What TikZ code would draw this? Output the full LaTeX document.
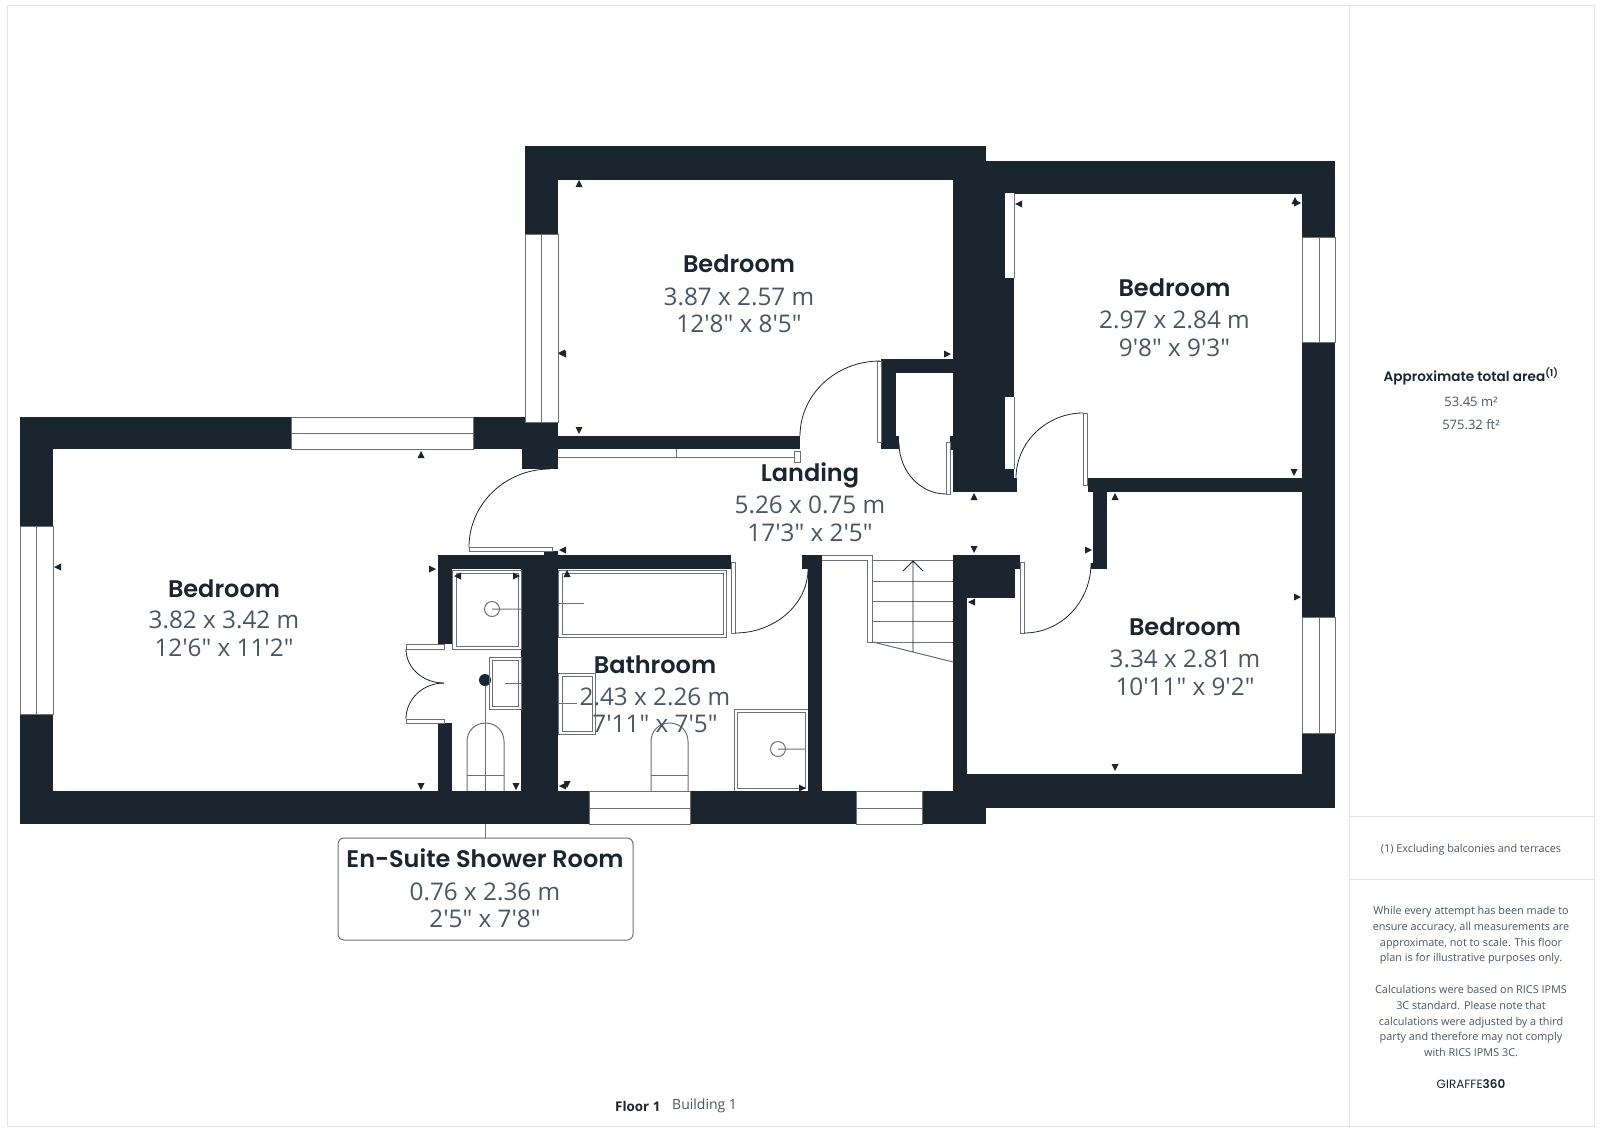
\documentclass[tikz,border=0pt]{standalone}
\usepackage{fontspec}
\setmainfont{Open Sans}
\newfontfamily\sizefont{Open Sans}
\newfontfamily\titlefont{Poppins}[BoldFont={Poppins SemiBold}]
\definecolor{wallcol}{HTML}{1B2530}
\definecolor{linecol}{HTML}{6C7178}
\definecolor{framecol}{HTML}{E2E4E7}
\definecolor{sizecol}{HTML}{4B5563}
\begin{document}
\begin{tikzpicture}[
                x=1pt, y=-1pt,
                wall/.style={fill=wallcol, draw=none},
                glass/.style={draw=linecol, fill=white, line width=0.9pt},
                leaf/.style={draw=linecol, fill=white, line width=0.9pt},
                swing/.style={draw=wallcol, line width=0.8pt},
                fixture/.style={draw=linecol, line width=1pt},
                pointer/.style={fill=wallcol, draw=none},
                frameline/.style={draw=framecol, line width=1pt},
                roomname/.style={font=\titlefont\bfseries\fontsize{24}{24}\selectfont, text=wallcol, inner sep=0pt},
                roomsize/.style={font=\sizefont\fontsize{24.3}{24.3}\selectfont, text=sizecol, inner sep=0pt},
                sidetext/.style={font=\fontsize{10.85}{15.8}\selectfont, text=sizecol, align=center, inner sep=0pt}
            ]

            % Page size and frame
            \useasboundingbox (0,0) rectangle (1600,1128);
            \fill[white] (0,0) rectangle (1600,1128);
            \draw[frameline] (7,5) rectangle (1594,1126);
            \draw[frameline] (1349,5) -- (1349,1126);
            \draw[frameline] (1349,816) -- (1594,816);
            \draw[frameline] (1349,879) -- (1594,879);

            % Shower room label with its leader
            \node[circle, fill=wallcol, minimum size=12pt, inner sep=0pt] (showerdot) at (485,680) {};
            \node[draw=linecol, line width=1pt, rounded corners=6pt, fill=white, minimum width=295pt, minimum height=102pt] (showerbox) at (485.5,889) {};
            \draw[fixture] (showerdot) -- (showerdot |- showerbox.north);

            % Walls
            \foreach \xa/\ya/\xb/\yb in {
                525/146/986/180, 525/180/558/234, 953/146/986/492, 986/161/1335/194,
                986/194/1014/492, 1302/161/1335/237, 1302/342/1335/617, 1302/733/1335/808,
                1014/478/1017/492, 950/436/953/450, 881/359/953/373, 881/373/896/449,
                882/436/899/449, 558/436/800/449, 522/422/558/469, 473/417/525/449,
                20/417/291/449, 20/449/53/526, 20/714/53/791, 20/791/589/824,
                438/555/731/569, 544/551/558/555, 438/569/452/644, 438/723/452/791,
                521/569/558/791, 802/555/822/569, 808/569/822/791, 690/791/856/824,
                922/791/986/824, 953/555/1020/569, 953/569/967/791, 967/569/1015/598,
                967/774/1335/808, 1088/478/1303/492, 1093/492/1107/569, 1091/563/1093/569}
                \fill[wall] (\xa,\ya) rectangle (\xb,\yb);

            % Windows
            \draw[glass] (291,417) rectangle (473,449) (291,433) -- (473,433);
            \draw[glass] (20,526) rectangle (53,714) (36,526) -- (36,714);
            \draw[glass] (525,234) rectangle (558,422) (541,234) -- (541,422);
            \draw[glass] (1302,237) rectangle (1335,342) (1319,237) -- (1319,342);
            \draw[glass] (1302,617) rectangle (1335,733) (1319,617) -- (1319,733);
            \draw[glass] (589,791) rectangle (690,824) (589,808) -- (690,808);
            \draw[glass] (856,791) rectangle (922,824) (856,808) -- (922,808);

            % Panels in the walls
            \fill[white] (1005,193) rectangle (1014,278);
            \fill[white] (1005,397) rectangle (1014,469);
            \draw[leaf] (1014,193) -- (1014,278) (1014,397) -- (1014,469);
            \draw[leaf] (558,457) -- (794,457) (676,449) -- (676,457);
            \draw[leaf] (794,451) rectangle (800,462);

            % Door leaves
            \foreach \xa/\ya/\xb/\yb in {
                877/361/881/442, 946/442/950/494, 1083/413/1087/485, 1020/562/1024/633,
                731/562/735/633, 469/547/552/551, 406/644/444/649, 406/719/444/723}
                \draw[leaf] (\xa,\ya) rectangle (\xb,\yb);

            % Door swings
            \draw[swing] (800,436) .. controls (800,394.6) and (835.8,361) .. (880,361);
            \draw[swing] (550,469) .. controls (505.3,469) and (469,504) .. (469,547);
            \draw[swing] (735,633) .. controls (775,633) and (808,604) .. (808,569);
            \draw[swing] (899,443) .. controls (899,471) and (920,494) .. (946,494);
            \draw[swing] (1016,478) .. controls (1016,442) and (1047,413) .. (1083,413);
            \draw[swing] (1091,563) .. controls (1091,602) and (1061,633) .. (1024,633);
            \draw[swing] (406,649) .. controls (406,668) and (423,683) .. (444,683);
            \draw[swing] (406,719) .. controls (406,699) and (423,683) .. (444,683);

            % Shower room fittings
            \draw[fixture] (452,570) rectangle (521,649);
            \draw[fixture] (456,573) rectangle (518,646);
            \draw[fixture] (492,609) circle (7.5) (492,609) -- (521,609);
            \draw[fixture] (489,657) rectangle (521,709);
            \draw[fixture] (492,660) rectangle (518,706);
            \draw[fixture] (505,683) -- (521,683);
            \draw[fixture] (467,791) -- (467,741.5) .. controls (467,731) and (475,723) .. (485.5,723)
                .. controls (496,723) and (504,731) .. (504,741.5) -- (504,791);
            \draw[fixture] (467,775) -- (504,775);

            % Bathroom fittings
            \draw[fixture] (558,570) rectangle (726,637);
            \draw[fixture] (562,573) rectangle (723,634);
            \draw[fixture] (558,603) -- (584,603);
            \draw[fixture] (558,673) rectangle (595,734);
            \draw[fixture] (562,676) rectangle (592,731);
            \draw[fixture] (558,703) -- (577,703);
            \draw[fixture] (651,791) -- (651,741.5) .. controls (651,731) and (659,723) .. (669.5,723)
                .. controls (680,723) and (688,731) .. (688,741.5) -- (688,791);
            \draw[fixture] (651,775) -- (688,775);
            \draw[fixture] (734,791) -- (734,709) -- (808,709);
            \draw[fixture] (737,788) rectangle (805,712);
            \draw[fixture] (778,749) circle (7.5) (778,749) -- (806,749);

            % Stairs
            \draw[fixture] (822,555) -- (872,555) -- (872,642) -- (867,642) -- (867,560) -- (822,560);
            \foreach \y in {560,581,601,621,642}
                \draw[fixture] (872,\y) -- (953,\y);
            \draw[fixture] (873,642) -- (953,662);
            \draw[swing] (913,652) -- (913,561) (903,571) -- (913,561) -- (923,571);

            % Wall pointers (x/y/angle)
            \foreach \x/\y/\a in {
                579/184/0, 562/353/90, 947/354/270, 579/430/180, 563/354/90,
                421/455/0, 58/567/90, 432/569/270, 421/786/180, 458/576/90,
                516/576/270, 516/786/180, 563/550/90, 567/574/0, 563/786/90,
                567/784/180, 802/788/270, 974/497/0, 974/549/180, 1088/550/270,
                1115/497/0, 972/602/90, 1295/201/0, 1297/203/270, 1019/204/90,
                1294/472/180, 1297/597/270, 1115/767/180}
                \fill[pointer, shift={(\x,\y)}, rotate=\a] (-3.5,3) -- (3.5,3) -- (0,-4) -- cycle;

            % Room labels
            \node[roomname] (bedtop) at (739,264) {Bedroom};
            \node[roomsize] (bedtopm) at (739,297) {3.87 x 2.57 m};
            \node[roomsize] (bedtopft) at (739,324) {12'8" x 8'5"};

            \node[roomname] (bedright) at (1174.5,288) {Bedroom};
            \node[roomsize] (bedrightm) at (1174.5,320) {2.97 x 2.84 m};
            \node[roomsize] (bedrightft) at (1174.5,348) {9'8" x 9'3"};

            \node[roomname] (bedlow) at (1185,627) {Bedroom};
            \node[roomsize] (bedlowm) at (1185,659) {3.34 x 2.81 m};
            \node[roomsize] (bedlowft) at (1185,687) {10'11" x 9'2"};

            \node[roomname] (bedleft) at (224,589) {Bedroom};
            \node[roomsize] (bedleftm) at (224,620) {3.82 x 3.42 m};
            \node[roomsize] (bedleftft) at (224,648) {12'6" x 11'2"};

            \node[roomname] (landing) at (810,475) {Landing};
            \node[roomsize] (landingm) at (810,505) {5.26 x 0.75 m};
            \node[roomsize] (landingft) at (810,533) {17'3" x 2'5"};

            \node[roomname] (bath) at (655,665) {Bathroom};
            \node[roomsize] (bathm) at (655,697) {2.43 x 2.26 m};
            \node[roomsize] (bathft) at (655,724) {7'11" x 7'5"};

            \node[roomname] (shower) at (485,858) {En-Suite Shower Room};
            \node[roomsize] (showerm) at (485,892) {0.76 x 2.36 m};
            \node[roomsize] (showerft) at (485,919) {2'5" x 7'8"};

            % Side column
            \node[font=\titlefont\bfseries\fontsize{13.6}{13.6}\selectfont, text=wallcol, inner sep=0pt] (areaname) at (1471,376) {Approximate total area\textsuperscript{(1)}};
            \node[sidetext, font=\fontsize{13}{13}\selectfont] (aream) at (1471,402) {53.45 m²};
            \node[sidetext, font=\fontsize{13}{13}\selectfont] (areaft) at (1471,425) {575.32 ft²};
            \node[sidetext] (note) at (1471,850) {(1) Excluding balconies and terraces};
            \node[sidetext, anchor=north] (disclaimer) at (1471,906) {While every attempt has been made to\\ensure accuracy, all measurements are\\approximate, not to scale. This floor\\plan is for illustrative purposes only.\\[15.8pt]Calculations were based on RICS IPMS\\3C standard. Please note that\\calculations were adjusted by a third\\party and therefore may not comply\\with RICS IPMS 3C.};
            \node[font=\titlefont\fontsize{12}{12}\selectfont, text=wallcol, inner sep=0pt] (brand) at (1471,1084) {GIRAFFE\textbf{360}};

            % Floor caption
            \node[font=\bfseries\fontsize{13.4}{13.4}\selectfont, text=wallcol, inner sep=0pt, anchor=west] (floorname) at (615,1106) {Floor 1};
            \node[font=\fontsize{14}{14}\selectfont, text=sizecol, inner sep=0pt, anchor=west] (building) at (672,1106) {Building 1};

        \end{tikzpicture}
\end{document}
